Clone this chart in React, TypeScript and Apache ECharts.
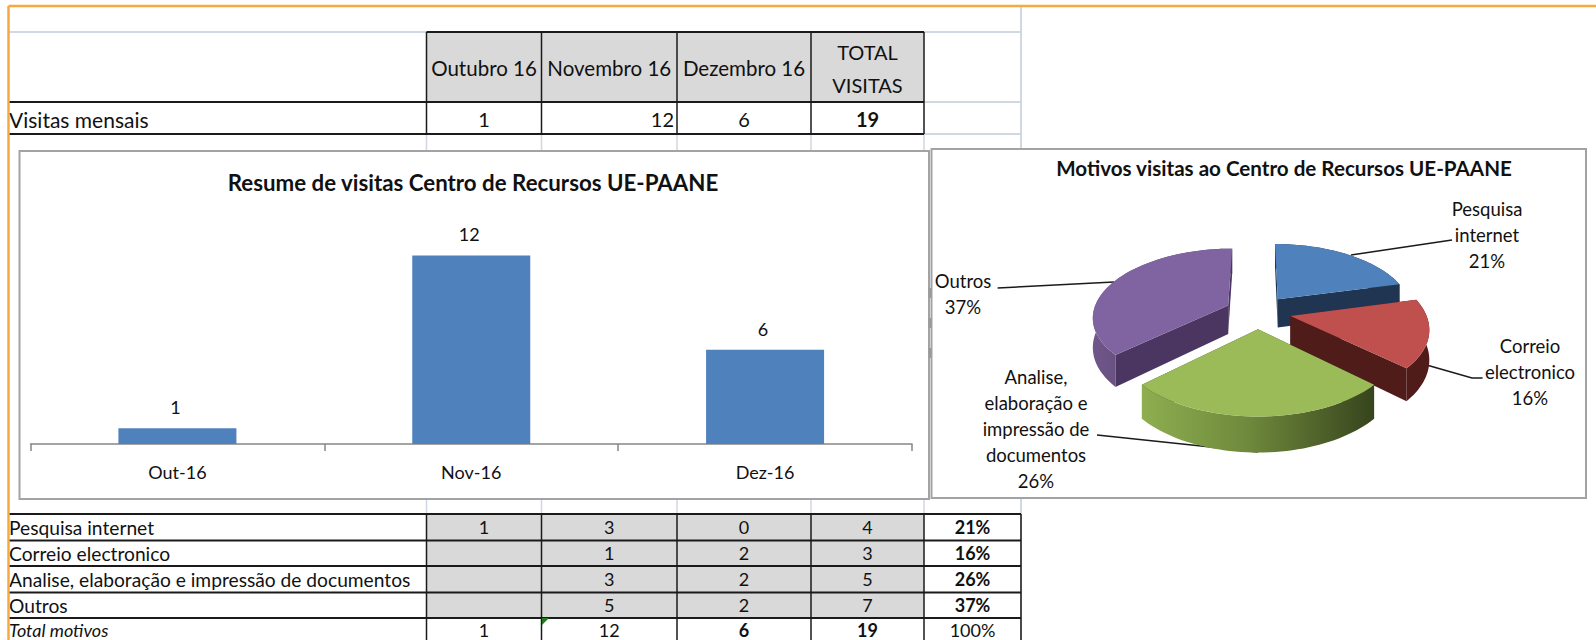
import React, { useEffect, useRef } from "react";
import * as echarts from "echarts";

const monthShort = ["Out-16", "Nov-16", "Dez-16"];
const monthHeaders = ["Outubro 16", "Novembro 16", "Dezembro 16"];
const monthlyVisits = [1, 12, 6];
const totalVisits = 19;
const motiveNames = ["Pesquisa internet", "Correio electronico", "Analise, elaboração e impressão de documentos", "Outros"];
const motiveRows = [
  ["1", "3", "0", "4", "21%"],
  ["", "1", "2", "3", "16%"],
  ["", "3", "2", "5", "26%"],
  ["", "5", "2", "7", "37%"],
];
const motiveTotals = [4, 3, 5, 7];
const totalRow = ["1", "12", "6", "19", "100%"];
const pieLabels = [
  ["Pesquisa", "internet", "21%"],
  ["Correio", "electronico", "16%"],
  ["Analise,", "elaboração e", "impressão de", "documentos", "26%"],
  ["Outros", "37%"],
];
const barTitle = "Resume de visitas Centro de Recursos UE-PAANE";
const pieTitle = "Motivos visitas ao Centro de Recursos UE-PAANE";

const FONT = "Lato";
const colX = [426.5, 541.5, 677, 811, 924, 1021];
const rowY = [514, 540.5, 566, 592.5, 618, 644];

function txt(x: number, y: number, text: string, o: any = {}) {
  return {
    type: "text",
    x,
    y,
    silent: true,
    style: {
      text,
      fontFamily: FONT,
      fontSize: o.size ?? 18,
      fontWeight: o.bold ? "bold" : "normal",
      fontStyle: o.italic ? "italic" : "normal",
      fill: o.fill ?? "#111",
      textAlign: o.align ?? "center",
      textVerticalAlign: "middle",
      align: o.align ?? "center",
      verticalAlign: "middle",
    },
  };
}
function ln(x1: number, y1: number, x2: number, y2: number, stroke = "#1a1a1a", lineWidth = 1.5) {
  return { type: "line", silent: true, shape: { x1, y1, x2, y2 }, style: { stroke, lineWidth } };
}
function rect(x: number, y: number, width: number, height: number, fill: string, stroke?: string, lineWidth = 0) {
  return { type: "rect", silent: true, shape: { x, y, width, height }, style: { fill, stroke, lineWidth } };
}
function poly(points: number[][]) {
  return { type: "polyline", silent: true, shape: { points }, style: { stroke: "#1a1a1a", lineWidth: 1.5, fill: "none" } };
}

function sheetElements() {
  const els: any[] = [];
  const grid = "#d0d7e5";
  [32, 102, 134].forEach((y) => els.push(ln(9, y, 1021, y, grid, 2)));
  els.push(ln(1021, 6, 1021, 640, grid, 2));
  colX.slice(0, 5).forEach((x) => els.push(ln(x, 134, x, 151, grid, 1.5), ln(x, 499, x, 514, grid, 1.5)));
  // header block
  els.push(rect(colX[0], 32, colX[4] - colX[0], 70, "#d9d9d9"));
  els.push(ln(colX[0], 32, colX[4], 32, "#1a1a1a", 2));
  els.push(ln(9, 102, colX[4], 102, "#1a1a1a", 2));
  els.push(ln(9, 134, colX[4], 134, "#1a1a1a", 2));
  colX.slice(0, 5).forEach((x) => els.push(ln(x, 32, x, 134, "#1a1a1a", 1.5)));
  monthHeaders.forEach((h, i) => els.push(txt((colX[i] + colX[i + 1]) / 2, 68, h, { size: 20.5 })));
  els.push(txt((colX[3] + colX[4]) / 2, 52, "TOTAL", { size: 20 }));
  els.push(txt((colX[3] + colX[4]) / 2, 85, "VISITAS", { size: 20 }));
  els.push(txt(9, 119, "Visitas mensais", { align: "left", size: 21 }));
  els.push(txt((colX[0] + colX[1]) / 2, 119, String(monthlyVisits[0]), { size: 20 }));
  els.push(txt(colX[2] - 3, 119, String(monthlyVisits[1]), { size: 20, align: "right" }));
  els.push(txt((colX[2] + colX[3]) / 2, 119, String(monthlyVisits[2]), { size: 20 }));
  els.push(txt((colX[3] + colX[4]) / 2, 119, String(totalVisits), { size: 20, bold: true }));
  // lower table
  els.push(rect(colX[0], rowY[0], colX[4] - colX[0], rowY[4] - rowY[0], "#d9d9d9"));
  rowY.slice(0, 5).forEach((y) => els.push(ln(9, y, 1021, y, "#1a1a1a", 2)));
  colX.forEach((x) => els.push(ln(x, rowY[0], x, 640, "#1a1a1a", 1.5)));
  motiveNames.forEach((n, r) => {
    const cy = (rowY[r] + rowY[r + 1]) / 2;
    els.push(txt(9, cy, n, { align: "left", size: 19.2 }));
    motiveRows[r].forEach((v, c) => {
      if (v) els.push(txt((colX[c] + colX[c + 1]) / 2, cy, v, { size: 18, bold: c === 4 }));
    });
  });
  els.push(txt(9, 629.5, "Total motivos", { align: "left", size: 18, italic: true }));
  totalRow.forEach((v, c) =>
    els.push(txt((colX[c] + colX[c + 1]) / 2, 629.5, v, { size: 18, bold: c === 2 || c === 3 }))
  );
  els.push({ type: "polygon", silent: true, shape: { points: [[542, 618], [549, 618], [542, 625]] }, style: { fill: "#1f7a1f" } });
  // chart frames
  els.push(rect(19.5, 151, 909.5, 348, "#ffffff", "#a3a3a3", 2));
  els.push(rect(931.5, 149, 654.5, 349, "#ffffff", "#a3a3a3", 2));
  [293, 323, 353].forEach((y) => els.push(rect(928.5, y - 5, 3, 10, "#9a9a9a")));
  // orange selection frame
  els.push(ln(8.5, 6, 1596, 6, "#f7a941", 2.5));
  els.push(ln(8.5, 6, 8.5, 640, "#f7a941", 2.5));
  // titles
  els.push(txt(473, 182, barTitle, { size: 22.3, bold: true }));
  els.push(txt(1284, 168, pieTitle, { size: 20.6, bold: true }));
  // pie labels
  const labelPos = [[1487, 209], [1530, 346], [1036, 377], [963, 281]];
  pieLabels.forEach((lines, i) =>
    lines.forEach((l, k) => els.push(txt(labelPos[i][0], labelPos[i][1] + k * 26, l, { size: 18.5 })))
  );
  els.push(poly([[1351, 255], [1452, 240]]));
  els.push(poly([[1426.6, 365], [1472, 378], [1482.6, 378]]));
  els.push(poly([[1097, 435], [1258, 452]]));
  els.push(poly([[997.6, 288], [1114, 282]]));
  return els;
}

// Projection of the tilted pie: ground-plane radius 1, seen in perspective
const PIE = { cx: 1258, cy: 312, a: 135, b: 67.6, k: 0.1566, depth: 29, explode: 0.245 };
function project(X: number, Z: number, drop: boolean) {
  const s = 1 / (1 - PIE.k * Z);
  return [PIE.cx + PIE.a * X * s, PIE.cy + PIE.b * Z * s + (drop ? PIE.depth * s : 0)];
}

const sliceTop = ["#4f81bd", "#c0504d", "#9bbb59", "#8064a2"];
const sliceWall = ["#1f3552", "#4f1c1a", "#3c4a20", "#4a3660"];

function sliceRender(params: any, api: any) {
  const idx = api.value(1);
  const total = motiveTotals.reduce((s, v) => s + v, 0);
  const before = motiveTotals.slice(0, idx).reduce((s, v) => s + v, 0);
  const t0 = (before / total) * Math.PI * 2;
  const t1 = ((before + api.value(0)) / total) * Math.PI * 2;
  const mid = (t0 + t1) / 2;
  const ox = Math.sin(mid) * PIE.explode;
  const oz = -Math.cos(mid) * PIE.explode;
  const arc: number[][] = [];
  const N = 48;
  for (let i = 0; i <= N; i++) {
    const t = t0 + ((t1 - t0) * i) / N;
    arc.push([ox + Math.sin(t), oz - Math.cos(t)]);
  }
  const top = arc.map((p) => project(p[0], p[1], false));
  const bot = arc.map((p) => project(p[0], p[1], true));
  const apexTop = project(ox, oz, false);
  const apexBot = project(ox, oz, true);
  const rimFill =
    idx === 2
      ? new echarts.graphic.LinearGradient(0, 0, 1, 0, [
          { offset: 0, color: "#8eae50" },
          { offset: 0.45, color: "#6f8a3c" },
          { offset: 1, color: "#37441d" },
        ])
      : idx === 3
      ? new echarts.graphic.LinearGradient(0, 0, 1, 0, [
          { offset: 0, color: "#6f5789" },
          { offset: 1, color: "#4a3660" },
        ])
      : sliceWall[idx];
  const pg = (points: number[][], fill: any) => ({ type: "polygon", shape: { points }, style: { fill, stroke: "none" } });
  return {
    type: "group",
    children: [
      pg([apexTop, top[0], bot[0], apexBot], sliceWall[idx]),
      pg([apexTop, top[N], bot[N], apexBot], sliceWall[idx]),
      pg([...top, ...bot.slice().reverse()], rimFill),
      pg([apexTop, ...top], sliceTop[idx]),
    ],
  };
}

const drawOrder = [0, 3, 1, 2];

export default function App() {
  const ref = useRef<HTMLDivElement>(null);
  useEffect(() => {
    document.body.style.margin = "0";
    document.body.style.background = "#fff";
    const chart = echarts.init(ref.current!, undefined, { renderer: "svg" });
    chart.setOption({
      animation: false,
      backgroundColor: "#ffffff",
      graphic: { elements: sheetElements() },
      grid: { left: 30.5, right: 684, top: 224, bottom: 196 },
      xAxis: {
        type: "category",
        data: monthShort,
        axisLine: { lineStyle: { color: "#868686", width: 1.5 } },
        axisTick: { show: true, length: 7, lineStyle: { color: "#868686", width: 1.5 } },
        axisLabel: { fontFamily: FONT, fontSize: 18, color: "#111", margin: 19 },
      },
      yAxis: { type: "value", min: 0, max: 14, show: false },
      series: [
        {
          type: "bar",
          data: monthlyVisits,
          barWidth: 118,
          itemStyle: { color: "#4f81bd" },
          label: { show: true, position: "top", distance: 12, offset: [-2, 0], fontFamily: FONT, fontSize: 18, color: "#111" },
          z: 3,
        },
        {
          type: "custom",
          coordinateSystem: "none",
          renderItem: sliceRender,
          data: drawOrder.map((i) => [motiveTotals[i], i]),
          encode: { value: 0 },
          z: 3,
        },
      ],
    });
    return () => chart.dispose();
  }, []);
  return <div ref={ref} style={{ width: 1596, height: 640 }} />;
}
